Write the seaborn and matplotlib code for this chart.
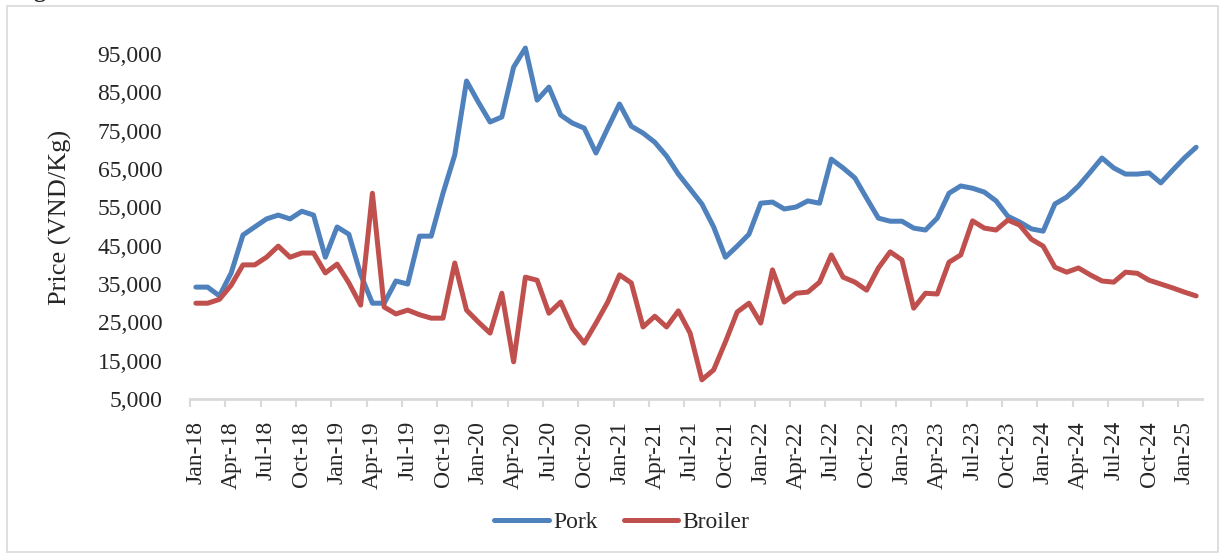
import pandas as pd
import numpy as np
import matplotlib.pyplot as plt
import matplotlib.ticker as mticker
from matplotlib.patches import Rectangle
import seaborn as sns

# monthly prices, Jan-18 .. Feb-25
months = pd.date_range("2018-01-01", "2025-02-01", freq="MS").strftime("%b-%y").tolist()

pork = [34200, 34200, 31900, 37900, 47800, 49900, 52000, 53000, 52000, 54000,
        53000, 42000, 49900, 48000, 37500, 30000, 30000, 35800, 35000, 47500,
        47500, 58700, 68700, 88000, 82500, 77300, 78600, 91600, 96600, 83000,
        86400, 79100, 77000, 75700, 69200, 75700, 82000, 76200, 74400, 72000,
        68400, 63700, 59800, 55900, 49900, 42000, 44900, 48000, 56100, 56400,
        54600, 55100, 56700, 56100, 67600, 65300, 62700, 57400, 52200, 51400,
        51400, 49600, 49100, 52200, 58700, 60600, 60000, 59000, 56700, 52700,
        51200, 49400, 48800, 55900, 57700, 60600, 64200, 67900, 65300, 63700,
        63700, 64000, 61400, 64700, 67900, 70700]

broiler = [30000, 30000, 31000, 34700, 40000, 40000, 42000, 44900, 42000, 43100,
           43100, 37900, 40200, 35300, 29500, 58700, 29000, 27200, 28200, 27000,
           26100, 26100, 40500, 28200, 25100, 22200, 32600, 14700, 36800, 36000,
           27400, 30300, 23500, 19600, 24800, 30300, 37400, 35300, 23800, 26600,
           23800, 28000, 22200, 10000, 12600, 19900, 27700, 30000, 24800, 38700,
           30300, 32600, 32900, 35500, 42600, 36800, 35500, 33400, 39200, 43400,
           41300, 28700, 32600, 32400, 40700, 42600, 51500, 49600, 49100, 51700,
           50400, 46700, 44900, 39400, 38100, 39200, 37400, 35800, 35500, 38100,
           37800, 36000, 35000, 34000, 32900, 31900]

series_names = ["Pork", "Broiler"]
colors = ["#4F81BD", "#C0504D"]
y_ticks = list(range(5000, 95001, 10000))

df = pd.DataFrame({"idx": np.arange(len(months)), "Pork": pork, "Broiler": broiler})
long_df = df.melt(id_vars="idx", value_vars=series_names, var_name="series", value_name="price")

sns.set_style("white")
plt.rcParams["font.family"] = ["Liberation Serif", "DejaVu Serif"]

fig = plt.figure(figsize=(12.2, 5.54), dpi=100)
ax = fig.add_axes([190 / 1220, 155 / 554, 1012 / 1220, 364 / 554])

sns.lineplot(data=long_df, x="idx", y="price", hue="series", hue_order=series_names,
             palette=colors, linewidth=3.6, ax=ax, legend=False)

ax.set_xlim(-0.5, len(months) - 0.5)
ax.set_ylim(5000, 100000)

# labels at every third category, tick marks between categories
label_pos = np.arange(0, len(months), 3)
ax.set_xticks(label_pos)
ax.set_xticklabels([months[i] for i in label_pos], rotation=90, fontsize=17)
ax.set_xticks(np.arange(-0.5, len(months), 3), minor=True)
ax.tick_params(axis="x", which="major", length=0, pad=16)
ax.tick_params(axis="x", which="minor", length=6, width=1.5, color="#D9D9D9", direction="out", bottom=True)

ax.set_yticks(y_ticks)
ax.yaxis.set_major_formatter(mticker.StrMethodFormatter("{x:,.0f}"))
ax.tick_params(axis="y", length=0, pad=20, labelsize=17)

ax.set_xlabel("")
ax.set_ylabel("Price (VND/Kg)", fontsize=19, labelpad=18)

for s in ["top", "right", "left"]:
    ax.spines[s].set_visible(False)
ax.spines["bottom"].set_color("#D9D9D9")
ax.spines["bottom"].set_linewidth(2)

handles = [plt.Line2D([], [], color=c, linewidth=3.6, solid_capstyle="round") for c in colors]
fig.legend(handles, series_names, loc="center", bbox_to_anchor=(622 / 1220, 1 - 522 / 554),
           ncol=2, frameon=False, fontsize=17, handlelength=2.3, handletextpad=0.2,
           columnspacing=1.1)

# outer chart border and cut-off caption above it
fig.add_artist(Rectangle((7 / 1220, 2 / 554), 1211 / 1220, 546 / 554, transform=fig.transFigure,
                         fill=False, edgecolor="#D9D9D9", linewidth=1.2))
fig.text(14 / 1220, 1 + 3 / 554, "Fig", fontsize=17, fontweight="bold", va="baseline", ha="left")

fig.savefig("out.png", dpi=100)
